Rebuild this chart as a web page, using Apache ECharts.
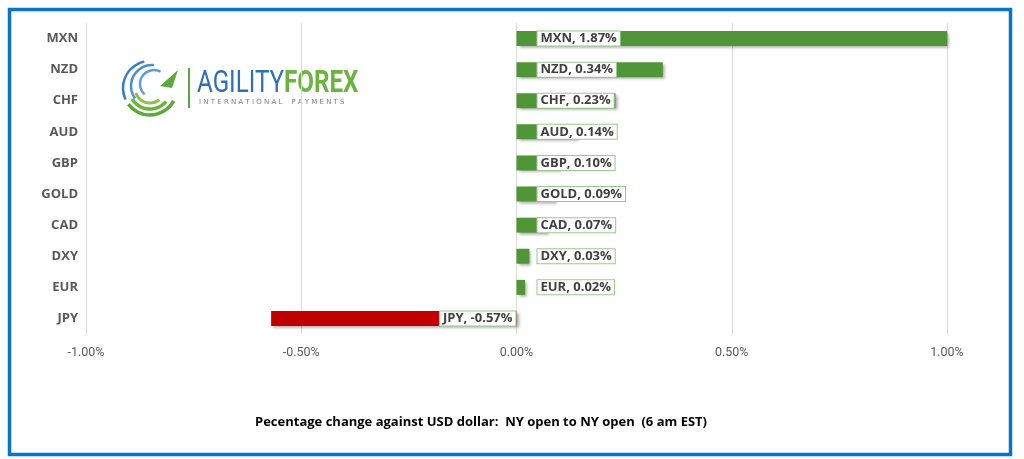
<!DOCTYPE html>
<html><head><meta charset="utf-8">
<script src="https://cdn.jsdelivr.net/npm/echarts@6/dist/echarts.min.js"></script>
<style>html,body{margin:0;padding:0;background:#fff}#c{width:1024px;height:459px}</style>
</head><body><div id="c"></div>
<script>
const categories = ['MXN','NZD','CHF','AUD','GBP','GOLD','CAD','DXY','EUR','JPY'];
const values = [1.87, 0.34, 0.23, 0.14, 0.10, 0.09, 0.07, 0.03, 0.02, -0.57];
const xTicks = [-1.0, -0.5, 0, 0.5, 1.0];
const footnote = 'Pecentage change against USD dollar:  NY open to NY open  (6 am EST)';

const chart = echarts.init(document.getElementById('c'), null, {renderer:'canvas'});
const labelBase = {
  show: true,
  formatter: p => p.name + ', ' + p.value.toFixed(2) + '%',
  color: '#404040', fontWeight: 'bold', fontSize: 13,
  fontFamily: 'Open Sans',
  backgroundColor: '#fff', borderColor: '#9CC88F', borderWidth: 1,
  padding: [1, 3, 0, 3]
};
const data = values.map((v, i) => ({
  value: v,
  itemStyle: {color: v >= 0 ? '#519636' : '#C00000'},
  label: v >= 0 ? {position: 'insideLeft', distance: 0, offset: [21, 0]}
                : {position: 'insideRight', distance: 0, offset: [-1, 0]}
}));

// logo arcs
const logoArcs = [];
const arcDefs = [
  [150, 88, 27, 2.7, 4.5, '#3A7CC2', 2.5],
  [152, 86, 21, 2.5, 4.8, '#4A90D0', 2.5],
  [154, 84, 14, 2.3, 5.2, '#5BA0DA', 2.5],
  [150, 88, 27, 0.5, 2.5, '#5AAA3C', 3.5],
  [150, 88, 21, 0.7, 2.6, '#6DB33F', 3.5],
  [150, 88, 15, 0.9, 2.8, '#8BC34A', 3]
];
arcDefs.forEach(a => logoArcs.push({
  type: 'arc', shape: {cx: a[0], cy: a[1], r: a[2], startAngle: a[3], endAngle: a[4]},
  style: {stroke: a[5], lineWidth: a[6], fill: null}
}));

chart.setOption({
  animation: false,
  grid: {left: 86, right: 77, top: 23, bottom: 125, containLabel: false},
  xAxis: {
    type: 'value', min: -1, max: 1, interval: 0.5,
    axisLine: {show: false}, axisTick: {show: false},
    axisLabel: {formatter: v => v.toFixed(2) + '%', color: '#595959', fontSize: 12.5,
      fontFamily: 'Roboto', margin: 12},
    splitLine: {show: true, lineStyle: {color: '#D9D9D9', width: 1}}
  },
  yAxis: {
    type: 'category', data: categories, inverse: true,
    axisLine: {show: false}, axisTick: {show: false},
    axisLabel: {color: '#595959', fontWeight: 'bold', fontSize: 13, fontFamily: 'Open Sans', margin: 8}
  },
  series: [{
    type: 'bar', data: data, barWidth: 15, clip: true,
    itemStyle: {shadowColor: 'rgba(0,0,0,0.35)', shadowBlur: 3, shadowOffsetX: 2, shadowOffsetY: 2},
    label: labelBase
  }],
  graphic: [
    {type: 'rect', shape: {x: 9.5, y: 9.5, width: 1001, height: 445},
     style: {fill: null, stroke: '#0A72C8', lineWidth: 3.5}, z: 100},
    {type: 'text', x: 255, y: 416,
     style: {text: footnote, fill: '#000', font: 'bold 13px "Open Sans"'}},
    ...logoArcs,
    {type: 'polygon', shape: {points: [[160, 86], [178, 70], [172, 88]]}, style: {fill: '#5AAA3C'}},
    {type: 'rect', shape: {x: 188, y: 68, width: 2, height: 40}, style: {fill: '#5AAA3C'}},
    {type: 'text', x: 197, y: 69, scaleX: 0.78,
     style: {text: 'AGILITY', fill: '#2F6FB5', font: '31px "Roboto"'}},
    {type: 'text', x: 284, y: 69, scaleX: 0.78,
     style: {text: 'FOREX', fill: '#6DB33F', font: 'bold 31px "Roboto"'}},
    {type: 'text', x: 199, y: 99,
     style: {text: 'I N T E R N A T I O N A L    P A Y M E N T S', fill: '#7F7F7F', font: '7px "DejaVu Sans"'}}
  ]
});
</script></body></html>
